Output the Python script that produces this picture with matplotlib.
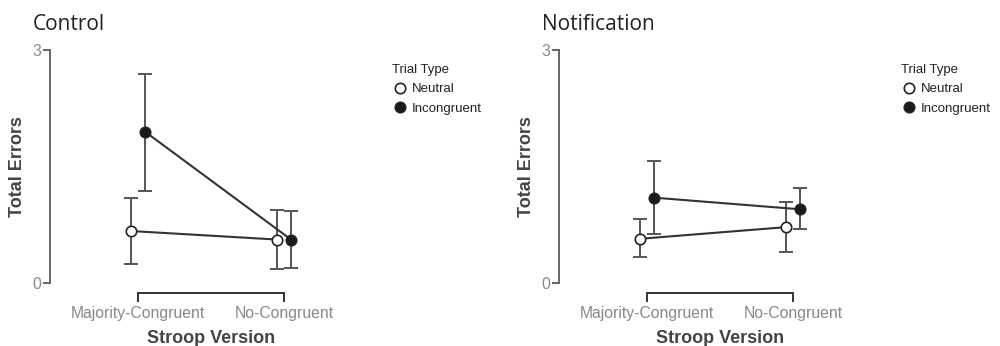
import numpy as np
import matplotlib.pyplot as plt
from matplotlib.lines import Line2D

# data
versions = ['Majority-Congruent', 'No-Congruent']
panels = ['Control', 'Notification']
trial_types = ['Neutral', 'Incongruent']

control_neutral = [0.67, 0.56]
control_neutral_lo = [0.24, 0.18]
control_neutral_hi = [1.09, 0.94]
control_incong = [1.95, 0.56]
control_incong_lo = [1.19, 0.19]
control_incong_hi = [2.69, 0.93]

notif_neutral = [0.57, 0.72]
notif_neutral_lo = [0.33, 0.40]
notif_neutral_hi = [0.82, 1.04]
notif_incong = [1.10, 0.95]
notif_incong_lo = [0.63, 0.69]
notif_incong_hi = [1.57, 1.22]

data = {
    'Control': [(control_neutral, control_neutral_lo, control_neutral_hi),
                (control_incong, control_incong_lo, control_incong_hi)],
    'Notification': [(notif_neutral, notif_neutral_lo, notif_neutral_hi),
                     (notif_incong, notif_incong_lo, notif_incong_hi)],
}

plt.rcParams['font.family'] = ['Liberation Sans', 'DejaVu Sans']

fig = plt.figure(figsize=(10, 3.46), dpi=100)

lefts = [0.050, 0.559]
face = ['white', '#1a1a1a']
dodge = [-0.048, 0.048]

for i, name in enumerate(panels):
    ax = fig.add_axes([lefts[i], 0.182, 0.28, 0.673])
    x = np.arange(len(versions))
    for j, (m, lo, hi) in enumerate(data[name]):
        xs = x + dodge[j]
        m = np.array(m)
        err = [m - np.array(lo), np.array(hi) - m]
        ax.errorbar(xs, m, yerr=err, fmt='none', ecolor='#555555',
                    elinewidth=1.4, capsize=5, capthick=1.4, zorder=1)
        ax.plot(xs, m, color='#333333', lw=1.5, zorder=2)
        ax.plot(xs, m, 'o', ms=7.5, mfc=face[j], mec='#222222', mew=1.2, zorder=3)

    ax.set_xlim(-0.603, 1.315)
    ax.set_ylim(0, 3)
    ax.set_yticks([0, 3])
    ax.set_xticks(x)
    ax.set_xticklabels(versions)
    for s in ['top', 'right']:
        ax.spines[s].set_visible(False)
    ax.spines['bottom'].set_bounds(0, 1)
    ax.spines['bottom'].set_position(('outward', 7))
    ax.spines['left'].set_bounds(0, 3)
    ax.spines['bottom'].set_color('#333333')
    ax.spines['left'].set_color('#666666')
    for s in ['bottom', 'left']:
        ax.spines[s].set_linewidth(1.4)
    ax.tick_params(axis='x', length=6.5, width=1.4, color='#333333', pad=3,
                   labelsize=11.3, labelcolor='#888888')
    ax.tick_params(axis='y', length=5, width=1.4, color='#666666', pad=1,
                   labelsize=11.3, labelcolor='#888888')
    ax.set_xlabel('Stroop Version', fontsize=13, fontweight='bold', color='#444444')
    ax.xaxis.set_label_coords((0.5 + 0.603) / 1.918, -0.20)
    ax.set_ylabel('Total Errors', fontsize=13, fontweight='bold', color='#444444', labelpad=5)
    ax.set_title(name, loc='left', fontsize=15, family='Open Sans', color='#222222',
                 x=-0.06, y=1.05)

    handles = [Line2D([], [], ls='none', marker='o', ms=7.5, mfc=face[k],
                      mec='#222222', mew=1.2) for k in range(2)]
    leg = ax.legend(handles, trial_types, title='Trial Type', loc='upper left',
                    bbox_to_anchor=(lefts[i] + 0.335, 0.835), bbox_transform=fig.transFigure,
                    frameon=False, fontsize=9.5, title_fontsize=9.5, alignment='left',
                    handletextpad=0.3, labelspacing=0.55, borderpad=0, handlelength=1.2)
    for t in leg.get_texts():
        t.set_color('#222222')
    leg.get_title().set_color('#222222')

fig.savefig('out.png', dpi=100)
